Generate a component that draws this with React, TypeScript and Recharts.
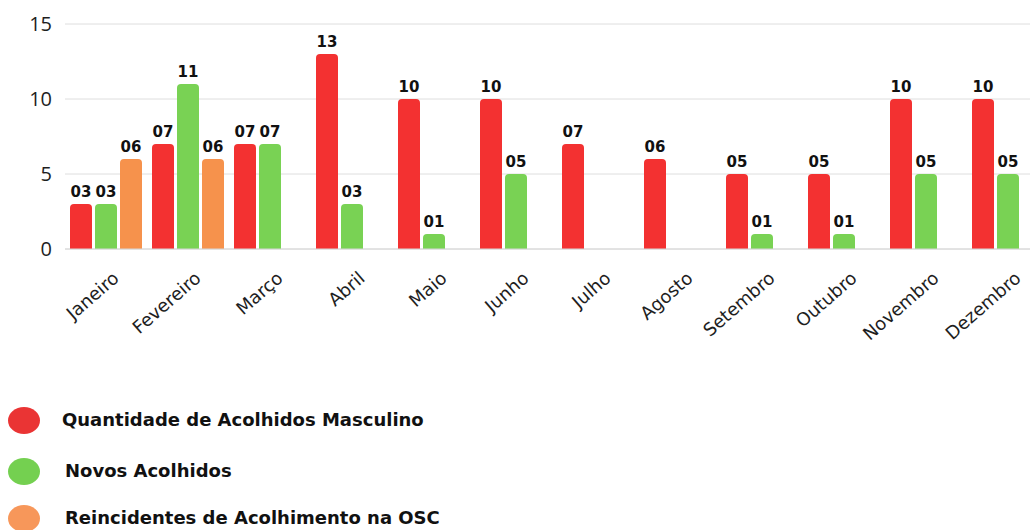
import React from 'react';
import { BarChart, Bar, XAxis, YAxis, CartesianGrid, LabelList } from 'recharts';

const months = ['Janeiro', 'Fevereiro', 'Março', 'Abril', 'Maio', 'Junho', 'Julho', 'Agosto', 'Setembro', 'Outubro', 'Novembro', 'Dezembro'];
const masculino = [3, 7, 7, 13, 10, 10, 7, 6, 5, 5, 10, 10];
const novos = [3, 11, 7, 3, 1, 5, null, null, 1, 1, 5, 5];
const reincidentes = [6, 6, null, null, null, null, null, null, null, null, null, null];
const yTicks = [0, 5, 10, 15];

const seriesNames = ['Quantidade de Acolhidos Masculino', 'Novos Acolhidos', 'Reincidentes de Acolhimento na OSC'];
const barColors = ['#f33131', '#79d254', '#f6924c'];
const dotColors = ['#ea3434', '#74d050', '#f7975a'];

const data = months.map((m, i) => ({
  month: m,
  masculino: masculino[i],
  novos: novos[i],
  reincidentes: reincidentes[i],
}));

const FONT = '"Open Sans", "DejaVu Sans", sans-serif';
const WIDE = '"DejaVu Sans", sans-serif';

const MonthTick = (props: any) => {
  const { x, y, payload } = props;
  return (
    <g transform={`translate(${x + 14},${y + 23})`}>
      <text textAnchor="end" transform="rotate(-41)" fontSize={18} fill="#1e1e1e" fontFamily={WIDE}>
        {payload.value}
      </text>
    </g>
  );
};

const ValueLabel = (props: any) => {
  const { x, y, width, value } = props;
  if (value == null || value === 0) return null;
  return (
    <text x={x + width / 2} y={y - 7} textAnchor="middle" fontSize={15} fontWeight="bold" fill="#111" fontFamily={WIDE}>
      {String(value).padStart(2, '0')}
    </text>
  );
};

const App: React.FC = () => {
  const keys = ['masculino', 'novos', 'reincidentes'];
  return (
    <div style={{ position: 'absolute', left: 0, top: 0, width: 1030, height: 530, overflow: 'hidden', background: '#fff' }}>
      <BarChart width={1050} height={360} data={data} margin={{ top: 24, right: 1, left: 0, bottom: 0 }} barSize={22} barGap={3}>
        <CartesianGrid vertical={false} stroke="#dedede" />
        <XAxis dataKey="month" height={111} tick={<MonthTick />} tickLine={false} axisLine={{ stroke: '#d6d6d6' }} interval={0} />
        <YAxis
          width={65}
          domain={[0, 15]}
          ticks={yTicks}
          axisLine={false}
          tickLine={false}
          tick={{ fontSize: 20, fill: '#1e1e1e', fontFamily: FONT, dx: -5 }}
        />
        {keys.map((k, i) => (
          <Bar key={k} dataKey={k} fill={barColors[i]} radius={[4, 4, 0, 0]} isAnimationActive={false}>
            <LabelList dataKey={k} content={<ValueLabel />} />
          </Bar>
        ))}
      </BarChart>

      {/* legenda */}
      {seriesNames.map((name, i) => {
        const cy = [420, 471, 518][i];
        return (
          <div key={name} style={{ position: 'absolute', left: 0, top: cy - 14, height: 28, display: 'flex', alignItems: 'center' }}>
            <div style={{ position: 'absolute', left: 8, top: 1, width: 32, height: 27, borderRadius: '50%', background: dotColors[i] }} />
            <span
              style={{
                position: 'absolute',
                left: i === 0 ? 62 : 65,
                top: 0,
                lineHeight: '28px',
                whiteSpace: 'nowrap',
                fontFamily: WIDE,
                fontWeight: 'bold',
                fontSize: 18,
                color: '#111',
              }}
            >
              {name}
            </span>
          </div>
        );
      })}
    </div>
  );
};

export default App;
